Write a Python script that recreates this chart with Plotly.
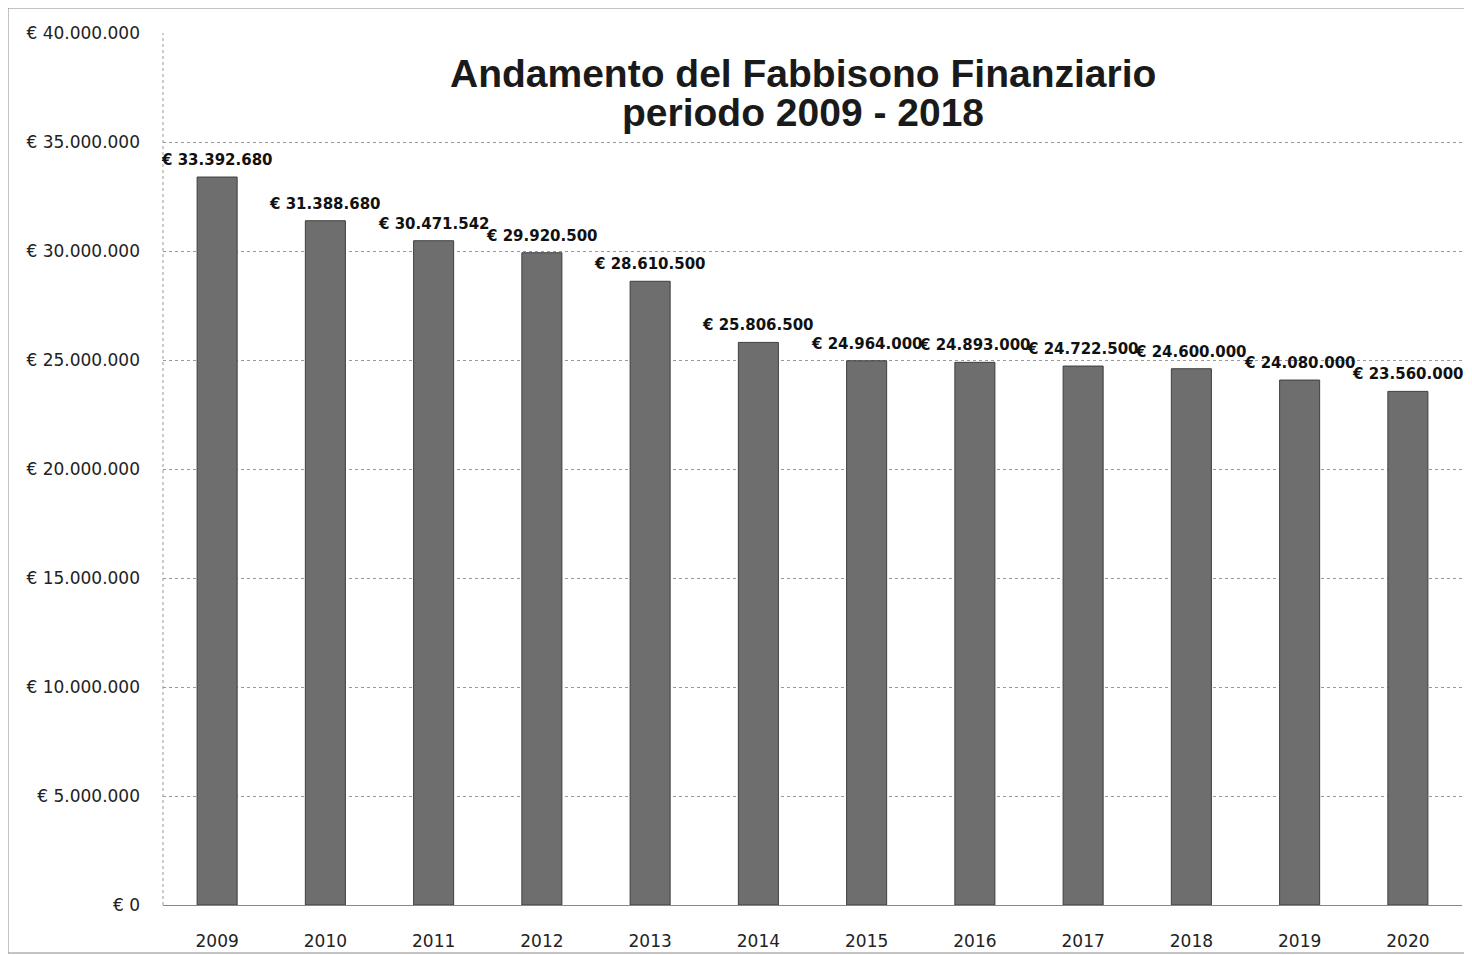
import plotly.graph_objects as go

years = ["2009", "2010", "2011", "2012", "2013", "2014", "2015", "2016", "2017", "2018", "2019", "2020"]
values = [33392680, 31388680, 30471542, 29920500, 28610500, 25806500, 24964000, 24893000, 24722500, 24600000, 24080000, 23560000]
y_ticks = [0, 5000000, 10000000, 15000000, 20000000, 25000000, 30000000, 35000000, 40000000]
title_lines = ["Andamento del Fabbisono Finanziario", "periodo 2009 - 2018"]


def euro(v):
    s = f"{v:,}".replace(",", ".")
    return "€ " + s


fig = go.Figure()
fig.add_trace(go.Bar(
    x=years, y=values,
    marker=dict(color="#6e6e6e", line=dict(color="#3f3f3f", width=1)),
    width=0.37,
    hoverinfo="skip",
))

annotations = []
for i, v in enumerate(values):
    annotations.append(dict(
        x=i, y=v, xref="x", yref="y", text="<b>" + euro(v) + "</b>", showarrow=False,
        yanchor="bottom", xanchor="center", yshift=6,
        font=dict(family="DejaVu Sans", size=15, color="#111111"),
    ))
for line, ypos in zip(title_lines, [0.954, 0.909]):
    annotations.append(dict(
        x=0.493, y=ypos, xref="paper", yref="paper", yanchor="middle", xanchor="center",
        text="<b>" + line + "</b>", showarrow=False,
        font=dict(family="Liberation Sans, Arial", size=39, color="#1a1a1a"),
    ))

fig.update_layout(
    width=1464, height=947,
    margin=dict(l=155, r=10, t=25, b=50),
    paper_bgcolor="white", plot_bgcolor="white",
    showlegend=False,
    annotations=annotations,
    shapes=[
        dict(type="rect", xref="paper", yref="paper", x0=-155 / 1299, x1=1.006, y0=-48 / 872, y1=1 + 25 / 872,
             line=dict(color="#888888", width=1)),
        dict(type="line", xref="paper", yref="paper", x0=0, x1=0, y0=0, y1=1,
             line=dict(color="#999999", width=1, dash="dot")),
    ],
    xaxis=dict(
        type="category", categoryorder="array", categoryarray=years,
        range=[-0.5, len(years) - 0.5],
        tickfont=dict(family="DejaVu Sans", size=17, color="#222222"),
        showgrid=False, ticks="", ticklabelstandoff=24,
        showline=False, automargin=False,
    ),
    yaxis=dict(
        range=[0, 40000000],
        tickvals=y_ticks, ticktext=[euro(t) for t in y_ticks],
        tickfont=dict(family="DejaVu Sans", size=17, color="#222222"),
        showgrid=True, gridcolor="#999999", griddash="dot", gridwidth=1,
        zeroline=True, zerolinecolor="#888888", zerolinewidth=1,
        ticks="", ticklabelstandoff=22, automargin=False,
    ),
)

fig.write_html("out.html")
